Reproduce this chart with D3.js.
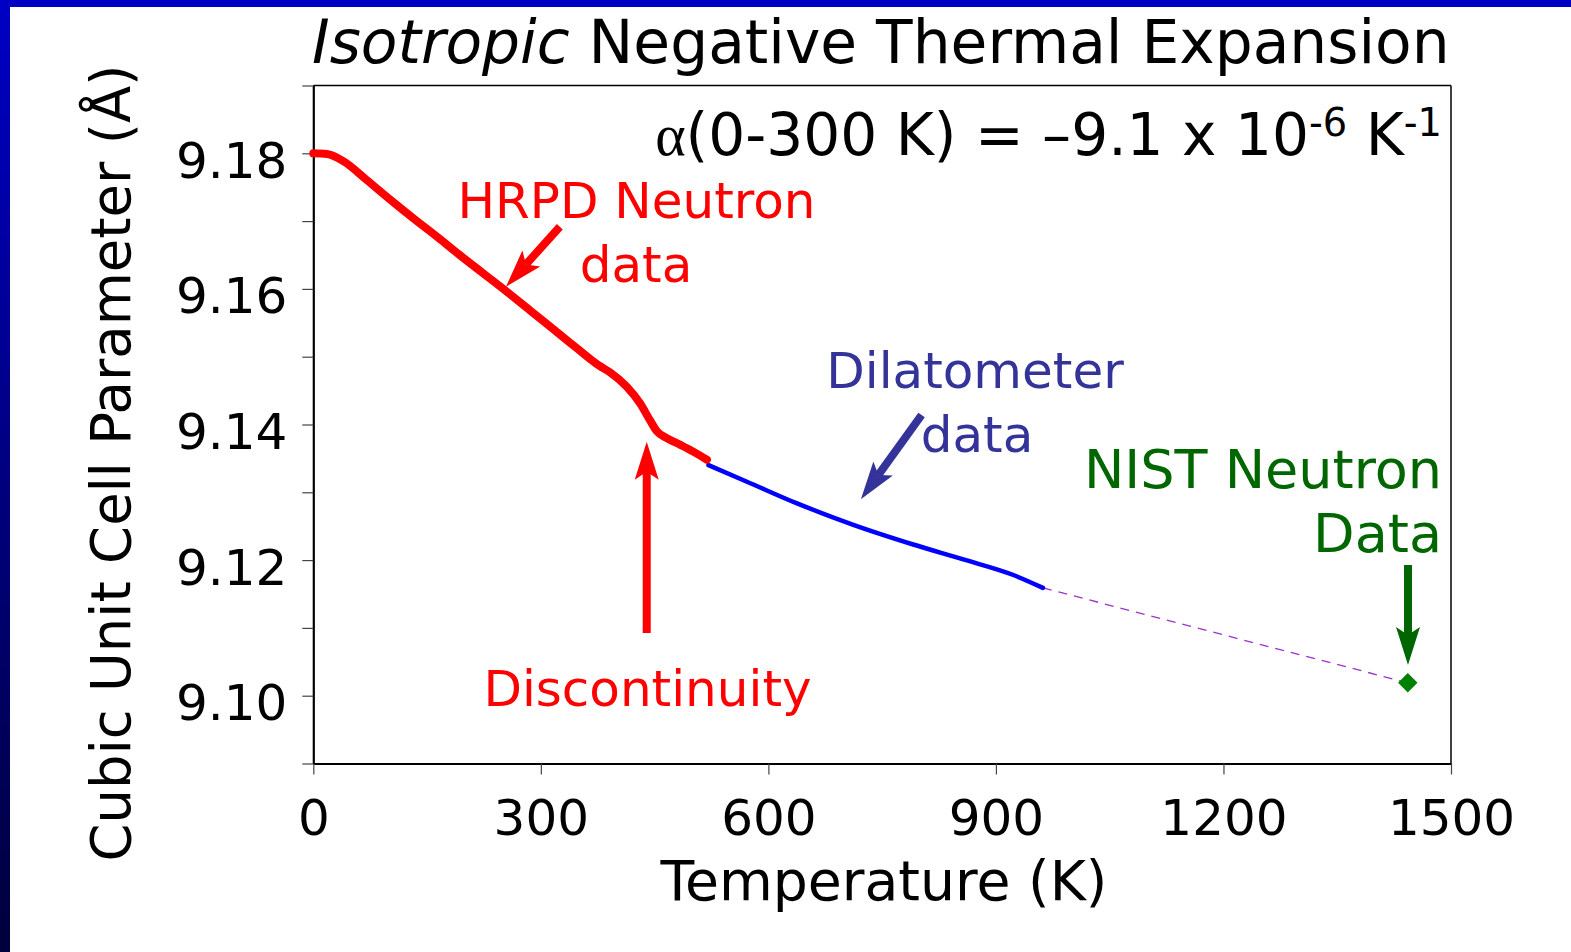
<!DOCTYPE html>
<html>
<head>
<meta charset="utf-8">
<script src="https://cdn.jsdelivr.net/npm/d3@7"></script>
<style>
  html, body { margin: 0; padding: 0; background: #fff; }
  svg { display: block; }
</style>
</head>
<body>
<svg id="chart" width="1571" height="952"></svg>
<script>
// ---------------- data ----------------
const hrpdT = [0, 18, 40, 70, 101, 132, 163, 193, 224, 255, 286, 316, 347, 378, 391, 413, 431, 444, 453, 466, 484, 501, 519];
const hrpdA = [9.1800, 9.1799, 9.1788, 9.1761, 9.1732, 9.1704, 9.1677, 9.1650, 9.1623, 9.1596, 9.1568, 9.1541, 9.1513, 9.1486, 9.1477, 9.1456, 9.1431, 9.1406, 9.1390, 9.1380, 9.1370, 9.1360, 9.1348];

const dilT = [521, 571, 637, 712, 791, 857, 923, 962];
const dilA = [9.1340, 9.1316, 9.1284, 9.1252, 9.1223, 9.1201, 9.1178, 9.1159];

const nistT = [1443];
const nistA = [9.1019];

const xTicks = [0, 300, 600, 900, 1200, 1500];
const yTicks = [9.09, 9.10, 9.11, 9.12, 9.13, 9.14, 9.15, 9.16, 9.17, 9.18, 9.19];
const yTickLabels = ["", "9.10", "", "9.12", "", "9.14", "", "9.16", "", "9.18", ""];

// ---------------- layout ----------------
const W = 1571, H = 952;
const FONT = "'DejaVu Sans', sans-serif";
const svg = d3.select("#chart");

const x = d3.scaleLinear().domain([0, 1500]).range([313.3, 1451]);
const y = d3.scaleLinear().domain([9.09, 9.19]).range([763.5, 85.5]);

// background + frame
const defs = svg.append("defs");
const grad = defs.append("linearGradient").attr("id", "leftband")
  .attr("x1", 0).attr("y1", 0).attr("x2", 0).attr("y2", 1);
grad.append("stop").attr("offset", "0%").attr("stop-color", "#0000C4");
grad.append("stop").attr("offset", "100%").attr("stop-color", "#00003C");

svg.append("rect").attr("width", W).attr("height", H).attr("fill", "#fff");
svg.append("rect").attr("x", 0).attr("y", 0).attr("width", 10).attr("height", H).attr("fill", "url(#leftband)");
svg.append("rect").attr("x", 0).attr("y", 0).attr("width", W).attr("height", 7).attr("fill", "#0000C4");

function fitWidth(sel, w) {
  const bb = sel.node().getBBox();
  const fs = parseFloat(sel.attr("font-size"));
  sel.attr("font-size", fs * w / bb.width);
}

// ---------------- axes ----------------
const xAxis = svg.append("g")
  .attr("transform", `translate(0,${y(9.09)})`)
  .call(d3.axisBottom(x).tickValues(xTicks).tickSize(11).tickSizeOuter(0).tickFormat(d3.format("d")));
xAxis.select(".domain").attr("stroke", "#000").attr("stroke-width", 2.2);
xAxis.selectAll(".tick line").attr("stroke", "#444").attr("stroke-width", 1.2);
xAxis.selectAll(".tick text")
  .attr("y", 835 - y(9.09)).attr("dy", 0)
  .attr("font-family", FONT).attr("font-size", 50).attr("fill", "#000");

const yAxis = svg.append("g")
  .attr("transform", `translate(${x(0)},0)`)
  .call(d3.axisLeft(y).tickValues(yTicks).tickSize(11).tickSizeOuter(0)
    .tickFormat((d, i) => yTickLabels[i]));
yAxis.select(".domain").attr("stroke", "#000").attr("stroke-width", 2.2);
yAxis.selectAll(".tick line").attr("stroke", "#444").attr("stroke-width", 1.2);
yAxis.selectAll(".tick text")
  .attr("x", -26).attr("y", 24).attr("dy", 0)
  .attr("font-family", FONT).attr("font-size", 50).attr("fill", "#000");

// top / right frame
svg.append("line").attr("x1", x(0)).attr("x2", x(1500)).attr("y1", y(9.19)).attr("y2", y(9.19))
  .attr("stroke", "#000").attr("stroke-width", 1.5);
svg.append("line").attr("x1", x(1500)).attr("x2", x(1500)).attr("y1", y(9.19)).attr("y2", y(9.09))
  .attr("stroke", "#000").attr("stroke-width", 1.5);

// ---------------- data marks ----------------
const line = d3.line().x(d => x(d[0])).y(d => y(d[1])).curve(d3.curveMonotoneX);

const hrpd = hrpdT.map((t, i) => [t, hrpdA[i]]);
const dil = dilT.map((t, i) => [t, dilA[i]]);
const dash = [[dilT[dilT.length - 1], dilA[dilA.length - 1]], [nistT[0], nistA[0]]];

svg.append("path").datum(dash).attr("d", d3.line().x(d => x(d[0])).y(d => y(d[1])))
  .attr("fill", "none").attr("stroke", "#9933CC").attr("stroke-width", 1.3).attr("stroke-dasharray", "9,7");

svg.append("path").datum(dil).attr("d", line)
  .attr("fill", "none").attr("stroke", "#0000FF").attr("stroke-width", 4.5)
  .attr("stroke-linecap", "round").attr("stroke-linejoin", "round");

svg.append("path").datum(hrpd).attr("d", line)
  .attr("fill", "none").attr("stroke", "#FF0000").attr("stroke-width", 8)
  .attr("stroke-linecap", "round").attr("stroke-linejoin", "round");

svg.selectAll(".nist").data(nistT.map((t, i) => [t, nistA[i]])).enter()
  .append("path").attr("class", "nist")
  .attr("transform", d => `translate(${x(d[0])},${y(d[1])})`)
  .attr("d", d3.symbol().type(d3.symbolDiamond2).size(240))
  .attr("fill", "#008000");

// ---------------- annotation arrows (data coordinates) ----------------
const arrows = [
  { from: [325, 9.16917], to: [254, 9.16032], color: "#FF0000" },
  { from: [439.6, 9.10925], to: [439.6, 9.13746], color: "#FF0000" },
  { from: [802, 9.14140], to: [722, 9.12897], color: "#333399" },
  { from: [1443.3, 9.11928], to: [1443.3, 9.10453], color: "#006600" }
];
arrows.forEach(a => {
  const x1 = x(a.from[0]), y1 = y(a.from[1]), x2 = x(a.to[0]), y2 = y(a.to[1]);
  const dx = x2 - x1, dy = y2 - y1, L = Math.hypot(dx, dy);
  const ux = dx / L, uy = dy / L, px = -uy, py = ux;
  const hl = 38, hw = 12, notch = 30;
  const bx = x2 - ux * hl, by = y2 - uy * hl;
  const nx = x2 - ux * notch, ny = y2 - uy * notch;
  svg.append("line").attr("x1", x1).attr("y1", y1).attr("x2", nx).attr("y2", ny)
    .attr("stroke", a.color).attr("stroke-width", 8);
  svg.append("path")
    .attr("d", `M${x2},${y2}L${bx + px * hw},${by + py * hw}L${nx},${ny}L${bx - px * hw},${by - py * hw}Z`)
    .attr("fill", a.color);
});

// ---------------- texts ----------------
const title = svg.append("text").attr("x", 312).attr("y", 63)
  .attr("font-family", FONT).attr("font-size", 60).attr("fill", "#000");
title.append("tspan").attr("font-style", "italic").text("Isotropic");
title.append("tspan").text(" Negative Thermal Expansion");
fitWidth(title, 1138);

const alpha = svg.append("text").attr("x", 1442).attr("y", 155).attr("text-anchor", "end")
  .attr("font-family", FONT).attr("font-size", 58).attr("fill", "#000");
alpha.append("tspan").attr("font-family", "'Liberation Serif', serif").text("α");
alpha.append("tspan").text("(0-300 K) = –9.1 x 10");
alpha.append("tspan").attr("font-size", "0.66em").attr("dy", "-0.5em").text("-6");
alpha.append("tspan").attr("dy", "0.33em").text(" K");
alpha.append("tspan").attr("font-size", "0.66em").attr("dy", "-0.5em").text("-1");
fitWidth(alpha, 787);

function label(txt, x0, y0, anchor, color, size) {
  return svg.append("text").attr("x", x0).attr("y", y0).attr("text-anchor", anchor)
    .attr("font-family", FONT).attr("font-size", size).attr("fill", color).text(txt);
}
label("HRPD Neutron", 636.5, 218, "middle", "#FF0000", 50);
label("data", 636, 282, "middle", "#FF0000", 50);
label("Dilatometer", 975, 388, "middle", "#333399", 50);
label("data", 977, 452, "middle", "#333399", 50);
label("NIST Neutron", 1442, 488, "end", "#006600", 54);
label("Data", 1442, 552, "end", "#006600", 54);
label("Discontinuity", 647.5, 706, "middle", "#FF0000", 50);
const tlab = label("Temperature (K)", 884, 900, "middle", "#000", 54);
fitWidth(tlab, 448);

const ylab = svg.append("text").attr("transform", "translate(130,463) rotate(-90)")
  .attr("text-anchor", "middle").attr("font-family", FONT).attr("font-size", 54).attr("fill", "#000")
  .text("Cubic Unit Cell Parameter (Å)");
fitWidth(ylab, 797);
</script>
</body>
</html>
